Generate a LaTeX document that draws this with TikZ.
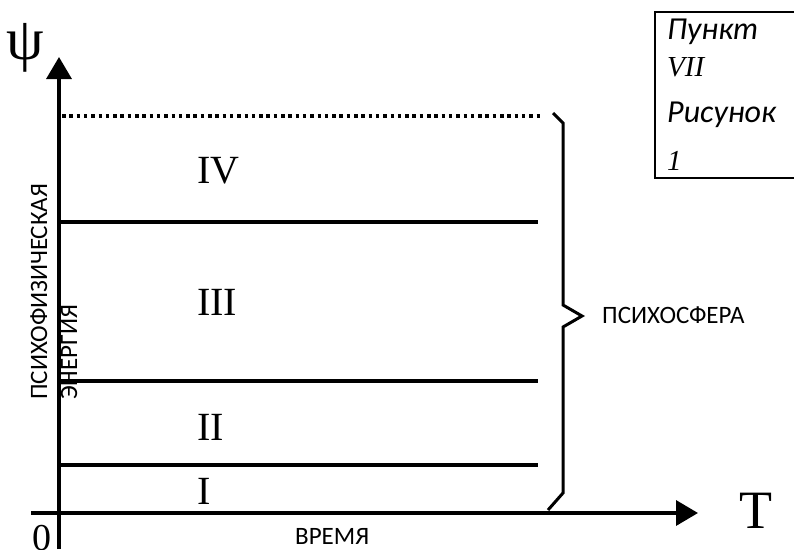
\documentclass[tikz,border=0pt]{standalone}
\usepackage{fontspec}
\setmainfont{Liberation Serif}
\setsansfont{Carlito}
\usetikzlibrary{arrows.meta}

\begin{document}
\begin{tikzpicture}[x=1pt, y=-1pt,
    axis/.style={line width=3.5pt, -{Triangle[length=22pt, width=25pt]}},
    level/.style={line width=3.5pt},
    roman/.style={anchor=base west, inner sep=0pt, font=\fontsize{40}{44}\selectfont},
    caption/.style={anchor=base west, inner sep=0pt, font=\sffamily\fontsize{25}{28}\selectfont}]
    \useasboundingbox (0,0) rectangle (794,549);

    % axes
    \coordinate (ybot) at (59,549);
    \coordinate (ytop) at (59,57);
    \coordinate (xleft) at (31,513);
    \coordinate (xtip) at (698,513);
    \draw[axis] (ybot) -- (ytop);
    \draw[axis] (xleft) -- (xtip);
    \node[inner sep=0pt, font=\fontsize{60}{64}\selectfont] (psi) at (25,48) {ψ};
    \node[anchor=base west, inner sep=0pt, font=\fontsize{54}{58}\selectfont] (tlab) at (739,528) {T};
    \node[anchor=base west, inner sep=0pt, font=\fontsize{38}{42}\selectfont] (zero) at (32,550) {0};
    \node[caption] (time) at (295,544) {ВРЕМЯ};
    \node[caption, rotate=90] (energy1) at (47,400) {ПСИХОФИЗИЧЕСКАЯ};
    \node[caption, rotate=90] (energy2) at (77,400) {ЭНЕРГИЯ};

    % levels
    \coordinate (l1a) at (59,465);  \coordinate (l1b) at (538,465);
    \coordinate (l2a) at (59,381);  \coordinate (l2b) at (538,381);
    \coordinate (l3a) at (59,222);  \coordinate (l3b) at (538,222);
    \coordinate (l4a) at (62,116);  \coordinate (l4b) at (541,116);
    \draw[level] (l1a) -- (l1b);
    \draw[level] (l2a) -- (l2b);
    \draw[level] (l3a) -- (l3b);
    \draw[level, dash pattern=on 3.5pt off 3.8pt] (l4a) -- (l4b);
    \node[roman] (r1) at (197,504) {I};
    \node[roman] (r2) at (197,440) {II};
    \node[roman] (r3) at (197,315) {III};
    \node[roman] (r4) at (197,183) {IV};

    % brace
    \coordinate (b1) at (553,113);
    \coordinate (b2) at (563,123);
    \coordinate (b3) at (563,305);
    \coordinate (b4) at (582,316);
    \coordinate (b5) at (563,327);
    \coordinate (b6) at (563,493);
    \coordinate (b7) at (548,510);
    \draw[line width=3pt] (b1) -- (b2) -- (b3) -- (b4) -- (b5) -- (b6) -- (b7);
    \node[caption] (sphere) at (602,323) {ПСИХОСФЕРА};

    % box
    \coordinate (k1) at (800,12);
    \coordinate (k2) at (655,12);
    \coordinate (k3) at (655,178);
    \coordinate (k4) at (800,178);
    \draw[line width=2.5pt] (k1) -- (k2) -- (k3) -- (k4);
    \node[anchor=base west, inner sep=0pt, font=\sffamily\itshape\fontsize{32}{34}\selectfont] (punkt) at (667,39) {Пункт};
    \node[anchor=base west, inner sep=0pt, font=\itshape\fontsize{29}{32}\selectfont] (seven) at (667,76) {VII};
    \node[anchor=base west, inner sep=0pt, font=\sffamily\itshape\fontsize{32}{34}\selectfont] (fig) at (667,122) {Рисунок};
    \node[anchor=base west, inner sep=0pt, font=\itshape\fontsize{29}{32}\selectfont] (one) at (667,170) {1};
\end{tikzpicture}
\end{document}
